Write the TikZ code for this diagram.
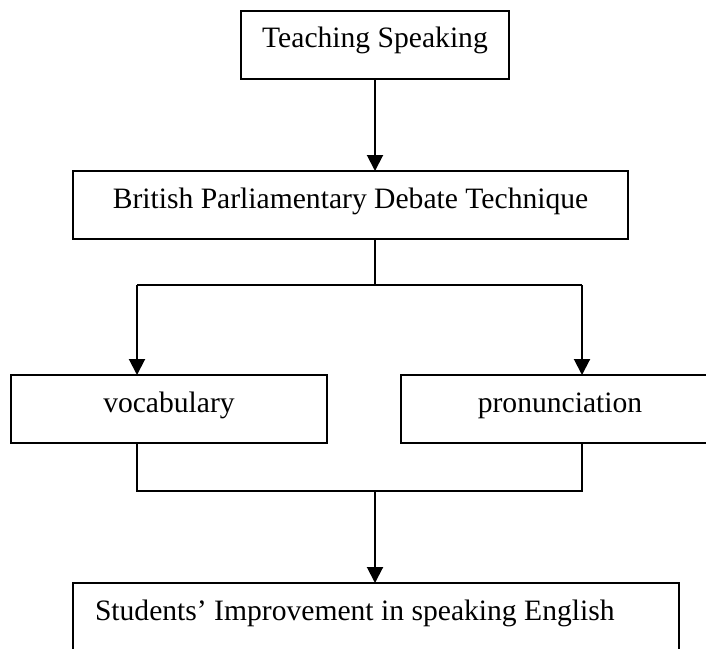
\documentclass[tikz,border=0pt]{standalone}
\usepackage{fontspec}
\setmainfont{Liberation Serif}
\usetikzlibrary{arrows.meta}

\begin{document}
\begin{tikzpicture}[x=.5pt,y=-.5pt,line width=1pt,
  box/.style={draw,line width=1pt,outer sep=0pt,text height=11pt,text depth=7.8pt,minimum height=34pt,font=\fontsize{14.8}{17}\selectfont},
  flow/.style={-{Triangle[length=8pt,width=8pt]}}]
\useasboundingbox (0,0) rectangle (706,648);
\node[box,minimum width=134pt] (teach) at (375,44.5) {Teaching Speaking};
\node[box,minimum width=277.5pt] (bpdt) at (350.5,205) {British Parliamentary Debate Technique};
\node[box,minimum width=158pt] (vocab) at (169,409) {vocabulary};
\node[box,minimum width=159pt] (pron) at (560,409) {pronunciation};
\node[box,text width=281pt,align=flush left,inner xsep=11pt,anchor=west] (result) at (73,617) {Students’ Improvement in speaking English};
\coordinate (split) at (375,285);
\coordinate (splitL) at (137,285);
\coordinate (splitR) at (582,285);
\coordinate (join) at (375,491);
\coordinate (joinL) at (137,491);
\coordinate (joinR) at (582,491);
\draw[flow] (teach.south) -- (teach.south |- bpdt.north);
\draw (bpdt.south -| split) -- (split);
\draw (splitL) -- (splitR);
\foreach \c/\n in {splitL/vocab,splitR/pron} \draw[flow] (\c) -- (\c |- \n.north);
\draw (vocab.south -| joinL) -- (joinL) -- (joinR) -- (pron.south -| joinR);
\draw[flow] (join) -- (join |- result.north);
\end{tikzpicture}
\end{document}
